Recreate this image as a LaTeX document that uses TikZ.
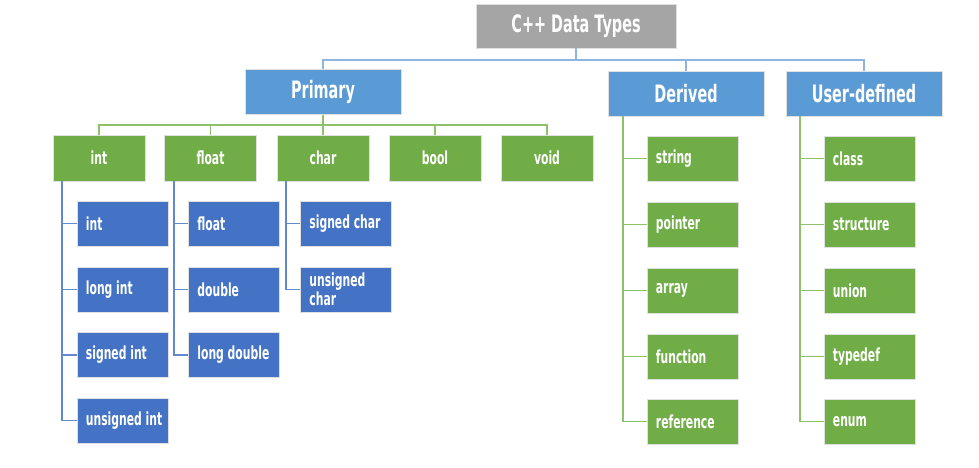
\documentclass[tikz,border=0pt]{standalone}
\usepackage{fontspec}
\newfontfamily\cond{DejaVu Sans}[FakeStretch=0.6]
\definecolor{rootgray}{HTML}{A5A5A5}
\definecolor{hdrblue}{HTML}{5B9BD5}
\definecolor{leafgreen}{HTML}{70AD47}
\definecolor{leafblue}{HTML}{4472C4}
\definecolor{lineblue}{HTML}{8FB4E3}
\definecolor{linegreen}{HTML}{8DC26B}
\definecolor{linedblue}{HTML}{6288D0}
\tikzset{
  basebox/.style={rectangle, inner sep=0pt, text=white, draw=white!88!black, line width=0.5pt},
  rootbox/.style={basebox, fill=rootgray, minimum width=150pt, minimum height=33pt,
    font=\cond\bfseries\fontsize{18}{20}\selectfont},
  hdrbox/.style={basebox, fill=hdrblue, minimum width=117pt, minimum height=33.75pt,
    font=\cond\bfseries\fontsize{18}{20}\selectfont},
  midbox/.style={basebox, fill=leafgreen, minimum width=69pt, minimum height=34.5pt,
    font=\cond\bfseries\fontsize{13.5}{15}\selectfont},
  bluebox/.style={basebox, fill=leafblue, minimum width=68.25pt, minimum height=33.75pt},
  greenbox/.style={basebox, fill=leafgreen, minimum width=68.25pt, minimum height=33.75pt},
  lbl/.style={anchor=west, xshift=6.75pt, inner sep=0pt, text=white, align=left,
    font=\cond\bfseries\fontsize{13.5}{14.5}\selectfont},
  rline/.style={draw=lineblue, line width=1.1pt},
  gline/.style={draw=linegreen, line width=1.1pt},
  bline/.style={draw=linedblue, line width=1.1pt},
}
\begin{document}
\begin{tikzpicture}[x=0.75pt,y=-0.75pt]
\useasboundingbox (0,0) rectangle (979,468);
% top levels
\node[rootbox] (root) at (576,26) {C++ Data Types};
\node[hdrbox] (prim) at (323,92) {Primary};
\node[hdrbox] (der) at (686,93.5) {Derived};
\node[hdrbox] (usr) at (864,93.5) {User-defined};
% primary children
\node[midbox] (gint) at (99,158) {int};
\node[midbox] (gfloat) at (210.5,158) {float};
\node[midbox] (gchar) at (323,158) {char};
\node[midbox] (gbool) at (435,158) {bool};
\node[midbox] (gvoid) at (547,158) {void};
% int children
\node[bluebox, label={[lbl]west:int}] (i1) at (122.5,223.5) {};
\node[bluebox, label={[lbl]west:long int}] (i2) at (122.5,289.5) {};
\node[bluebox, label={[lbl]west:signed int}] (i3) at (122.5,355) {};
\node[bluebox, label={[lbl]west:unsigned int}] (i4) at (122.5,420.5) {};
% float children
\node[bluebox, label={[lbl]west:float}] (f1) at (234,223.5) {};
\node[bluebox, label={[lbl]west:double}] (f2) at (234,289.5) {};
\node[bluebox, label={[lbl]west:long double}] (f3) at (234,355) {};
% char children
\node[bluebox, label={[lbl]west:signed char}] (c1) at (346,223.5) {};
\node[bluebox, label={[lbl]west:unsigned\\char}] (c2) at (346,289.5) {};
% derived children
\node[greenbox, label={[lbl]west:string}] (d1) at (692.5,158.5) {};
\node[greenbox, label={[lbl]west:pointer}] (d2) at (692.5,224.5) {};
\node[greenbox, label={[lbl]west:array}] (d3) at (692.5,290.5) {};
\node[greenbox, label={[lbl]west:function}] (d4) at (692.5,356.5) {};
\node[greenbox, label={[lbl]west:reference}] (d5) at (692.5,421.5) {};
% user-defined children
\node[greenbox, label={[lbl]west:class}] (u1) at (869.5,158.5) {};
\node[greenbox, label={[lbl]west:structure}] (u2) at (869.5,224.5) {};
\node[greenbox, label={[lbl]west:union}] (u3) at (869.5,290.5) {};
\node[greenbox, label={[lbl]west:typedef}] (u4) at (869.5,356.5) {};
\node[greenbox, label={[lbl]west:enum}] (u5) at (869.5,421.5) {};
% connectors: root
\coordinate (rj) at (576,60);
\draw[rline] (root.south) -- (rj);
\draw[rline] (rj) -| (prim.north);
\draw[rline] (rj) -| (der.north);
\draw[rline] (rj) -| (usr.north);
% connectors: primary
\coordinate (pj) at (323,125);
\draw[gline] (prim.south) -- (pj);
\foreach \n in {gint,gfloat,gchar,gbool,gvoid} \draw[gline] (pj) -| (\n.north);
% spines
\coordinate (sint) at (62,181);
\coordinate (sfloat) at (174,181);
\coordinate (schar) at (286,181);
\coordinate (sder) at (623,116);
\coordinate (susr) at (800,116);
\foreach \n in {i1,i2,i3,i4} \draw[bline] (sint) |- (\n.west);
\foreach \n in {f1,f2,f3} \draw[bline] (sfloat) |- (\n.west);
\foreach \n in {c1,c2} \draw[bline] (schar) |- (\n.west);
\foreach \n in {d1,d2,d3,d4,d5} \draw[gline] (sder) |- (\n.west);
\foreach \n in {u1,u2,u3,u4,u5} \draw[gline] (susr) |- (\n.west);
\end{tikzpicture}
\end{document}
